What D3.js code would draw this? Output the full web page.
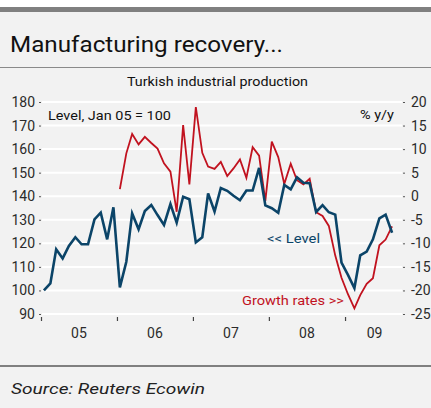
<!DOCTYPE html>
<html>
<head>
<meta charset="utf-8">
<script src="https://cdn.jsdelivr.net/npm/d3@7"></script>
<style>
  html, body { margin: 0; padding: 0; background: #ffffff; }
  svg { display: block; }
  text { font-family: Roboto, "DejaVu Sans", sans-serif; }
</style>
</head>
<body>
<svg id="chart" width="431" height="408"></svg>
<script>
// Turkish industrial production: level index (Jan 05 = 100), monthly from Jan 2005
const level = [
  100.0, 103.0, 117.5, 113.6, 118.9, 122.6, 119.6, 119.6, 130.2, 133.0, 121.7, 135.3,
  101.3, 112.2, 132.7, 126.0, 133.7, 136.3, 132.0, 127.8, 136.7, 128.8, 139.8, 138.7,
  120.4, 122.6, 141.2, 133.5, 143.5, 142.3, 140.2, 138.3, 142.4, 142.4, 152.0, 136.1,
  134.9, 133.0, 144.8, 142.9, 148.0, 145.7, 145.5, 133.3, 136.2, 133.2, 132.2, 111.8,
  106.6, 101.0, 114.9, 116.5, 121.7, 130.6, 132.2, 124.5
];
// Year-on-year growth, %, monthly from Jan 2006
const growth = [
  1.5, 9.1, 13.2, 11.0, 12.6, 11.3, 10.1, 7.0, 5.2, -3.3, 15.1, 2.5,
  18.9, 9.2, 6.3, 5.8, 7.3, 4.3, 5.9, 7.8, 3.9, 10.4, 8.6, -1.0,
  11.6, 8.3, 2.6, 6.9, 3.4, 2.5, 3.7, -3.4, -4.2, -6.3, -12.6, -17.3,
  -20.8, -23.8, -21.0, -18.6, -17.4, -10.4, -9.2, -6.4
];
const levelStart = [2005, 0];
const growthStart = [2006, 0];
const years = [2005, 2006, 2007, 2008, 2009];
const yearLabels = ["05", "06", "07", "08", "09"];
const leftTicks = [90, 100, 110, 120, 130, 140, 150, 160, 170, 180];
const rightTicks = [-25, -20, -15, -10, -5, 0, 5, 10, 15, 20];

const blue = "#0b4468";
const red = "#c1121f";
const textCol = "#2b2b2b";

const svg = d3.select("#chart");

// panel background and frame lines
svg.append("rect").attr("x", 0).attr("y", 12).attr("width", 431).attr("height", 396).attr("fill", "#f2f2f2");
svg.append("rect").attr("x", 0).attr("y", 7).attr("width", 431).attr("height", 5).attr("fill", "#808080");
svg.append("line").attr("x1", 0).attr("x2", 431).attr("y1", 67.5).attr("y2", 67.5).attr("stroke", "#8a8a8a").attr("stroke-width", 1);
svg.append("line").attr("x1", 0).attr("x2", 431).attr("y1", 366).attr("y2", 366).attr("stroke", "#808080").attr("stroke-width", 2);

svg.append("text").attr("x", 10).attr("y", 52).attr("font-size", 22).attr("fill", "#111")
  .attr("textLength", 273).attr("lengthAdjust", "spacingAndGlyphs")
  .text("Manufacturing recovery...");
svg.append("text").attr("x", 127).attr("y", 86).attr("font-size", 13)
  .attr("fill", "#111").attr("textLength", 181).attr("lengthAdjust", "spacingAndGlyphs")
  .text("Turkish industrial production");

svg.append("text").attr("x", 11).attr("y", 394).attr("font-size", 15.5).attr("font-style", "italic")
  .attr("fill", "#222").attr("textLength", 194).attr("lengthAdjust", "spacingAndGlyphs")
  .text("Source: Reuters Ecowin");

// scales
const plotLeft = 42, plotRight = 404;
const x = d3.scaleTime().domain([new Date(2005, 0, 1), new Date(2010, 0, 1)]).range([41, 421]);
const yL = d3.scaleLinear().domain([90, 180]).range([314, 102]);
const yR = d3.scaleLinear().domain([-25, 20]).range([314, 102]);

// gridlines
svg.append("g").selectAll("line").data(leftTicks).join("line")
  .attr("x1", plotLeft).attr("x2", plotRight - 2)
  .attr("y1", d => yL(d)).attr("y2", d => yL(d))
  .attr("stroke", "#ffffff").attr("stroke-width", 2);

// left axis
const axL = d3.axisLeft(yL).tickValues(leftTicks).tickSize(2).tickPadding(4);
const gL = svg.append("g").attr("transform", `translate(41,0)`).call(axL);
gL.select(".domain").remove();
gL.selectAll("line").attr("stroke", "#555");
gL.selectAll("text").attr("font-size", 14).attr("fill", textCol).attr("font-family", "Roboto, sans-serif");

// right axis
const axR = d3.axisRight(yR).tickValues(rightTicks).tickSize(2).tickPadding(6);
const gR = svg.append("g").attr("transform", `translate(403,0)`).call(axR);
gR.select(".domain").remove();
gR.selectAll("line").attr("stroke", "#555");
gR.selectAll("text").attr("font-size", 14).attr("fill", textCol).attr("font-family", "Roboto, sans-serif")
  .text(d => d);

// year ticks and labels
const axX = d3.axisBottom(x).tickValues(years.map(y => new Date(y, 0, 1))).tickSize(4).tickFormat("");
const gX = svg.append("g").attr("transform", `translate(0,317)`).call(axX);
gX.select(".domain").remove();
gX.selectAll("line").attr("stroke", "#444").attr("stroke-width", 1.2);

svg.append("g").selectAll("text").data(years).join("text")
  .attr("x", (d) => (x(new Date(d, 0, 1)) + Math.min(x(new Date(d + 1, 0, 1)), plotRight)) / 2)
  .attr("y", 338).attr("text-anchor", "middle").attr("font-size", 14).attr("fill", textCol)
  .text((d, i) => yearLabels[i]);

// series
const monthDate = (start, i) => new Date(start[0], start[1] + i, 15);

const lineL = d3.line().x((d, i) => x(monthDate(levelStart, i))).y(d => yL(d));
const lineR = d3.line().x((d, i) => x(monthDate(growthStart, i))).y(d => yR(d));

svg.append("path").datum(growth).attr("d", lineR)
  .attr("fill", "none").attr("stroke", red).attr("stroke-width", 1.8).attr("stroke-linejoin", "miter");
svg.append("path").datum(level).attr("d", lineL)
  .attr("fill", "none").attr("stroke", blue).attr("stroke-width", 2.6).attr("stroke-linejoin", "miter");

// annotations
svg.append("text").attr("x", 48).attr("y", 119.5).attr("font-size", 13).attr("fill", "#111")
  .attr("textLength", 123).attr("lengthAdjust", "spacingAndGlyphs")
  .text("Level, Jan 05 = 100");
svg.append("text").attr("x", 360).attr("y", 119).attr("font-size", 13).attr("fill", "#111")
  .attr("textLength", 34).attr("lengthAdjust", "spacingAndGlyphs")
  .text("% y/y");
svg.append("text").attr("x", 267).attr("y", 243).attr("font-size", 13).attr("fill", blue)
  .attr("textLength", 53).attr("lengthAdjust", "spacingAndGlyphs")
  .text("<< Level");
svg.append("text").attr("x", 242).attr("y", 305).attr("font-size", 13).attr("fill", red)
  .attr("textLength", 102).attr("lengthAdjust", "spacingAndGlyphs")
  .text("Growth rates >>");
</script>
</body>
</html>
